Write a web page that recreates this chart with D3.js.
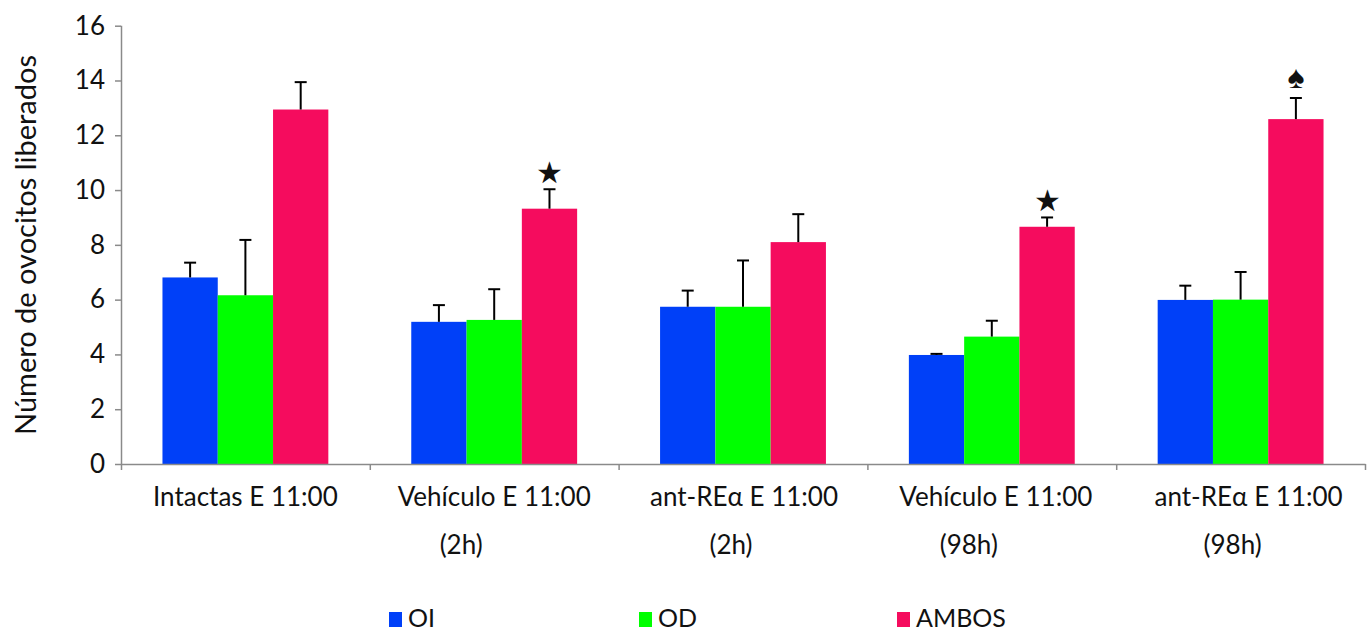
<!DOCTYPE html>
<html>
<head>
<meta charset="utf-8">
<script src="https://cdn.jsdelivr.net/npm/d3@7/dist/d3.min.js"></script>
<style>
  html, body { margin: 0; padding: 0; background: #fff; }
  svg { display: block; }
  text { font-family: Lato, "Open Sans", sans-serif; fill: #111; }
</style>
</head>
<body>
<svg id="chart" width="1371" height="634"></svg>
<script>
// ---------- data ----------
const categoriesLine1 = ["Intactas E 11:00", "Vehículo E 11:00", "ant-REα E 11:00", "Vehículo E 11:00", "ant-REα E 11:00"];
const categoriesLine2 = ["", "(2h)", "(2h)", "(98h)", "(98h)"];
const seriesNames = ["OI", "OD", "AMBOS"];
const valuesOI    = [6.81, 5.19, 5.74, 3.98, 5.99];
const valuesOD    = [6.16, 5.26, 5.74, 4.65, 6.00];
const valuesAMBOS = [12.94, 9.32, 8.10, 8.66, 12.59];
const errOI    = [0.54, 0.61, 0.59, 0.04, 0.52];
const errOD    = [2.02, 1.12, 1.69, 0.58, 1.01];
const errAMBOS = [1.00, 0.71, 1.02, 0.34, 0.77];
const yTicks = [0, 2, 4, 6, 8, 10, 12, 14, 16];
const yTitle = "Número de ovocitos liberados";
// significance marks: [category index, series index, symbol]
const marks = [[1, 2, "★"], [3, 2, "★"], [4, 2, "♠"]];

// ---------- layout / style ----------
const colors = ["#0040F8", "#00FF00", "#F50C5E"];
const plot = { left: 121, right: 1365, top: 25.7, bottom: 464 };
const line1Shift = [0, 0, 1, 4, 8];
const line2Shift = [0, -33, -12, -23, -8];
const axisColor = "#8a8a8a";

const svg = d3.select("#chart");
const cats = d3.range(categoriesLine1.length);
const values = [valuesOI, valuesOD, valuesAMBOS];
const errs = [errOI, errOD, errAMBOS];

const x = d3.scaleBand().domain(cats).range([plot.left, plot.right]).paddingInner(0).paddingOuter(0);
const xs = d3.scaleBand().domain(d3.range(seriesNames.length)).range([0, x.bandwidth()])
  .paddingInner(0).paddingOuter(0.75);
const y = d3.scaleLinear().domain([0, 16]).range([plot.bottom, plot.top]);

// bars
const rows = [];
cats.forEach(c => seriesNames.forEach((s, k) => rows.push({ c, k, v: values[k][c], e: errs[k][c] })));

svg.append("g").selectAll("rect").data(rows).join("rect")
  .attr("x", d => x(d.c) + xs(d.k))
  .attr("width", xs.bandwidth())
  .attr("y", d => y(d.v))
  .attr("height", d => y(0) - y(d.v))
  .attr("fill", d => colors[d.k]);

// error bars
const eg = svg.append("g").attr("stroke", "#000").attr("stroke-width", 2);
rows.forEach(d => {
  const cx = x(d.c) + xs(d.k) + xs.bandwidth() / 2;
  eg.append("line").attr("x1", cx).attr("x2", cx).attr("y1", y(d.v)).attr("y2", y(d.v + d.e));
  eg.append("line").attr("x1", cx - 6).attr("x2", cx + 6).attr("y1", y(d.v + d.e)).attr("y2", y(d.v + d.e));
});

// y axis
const yAxis = svg.append("g").attr("transform", `translate(${plot.left},0)`)
  .call(d3.axisLeft(y).tickValues(yTicks).tickSize(6).tickSizeOuter(0).tickPadding(10).tickFormat(d3.format("d")));
yAxis.select(".domain").attr("stroke", axisColor).attr("stroke-width", 1.5)
  .attr("d", `M0.5,${plot.top}V${plot.bottom + 6}`);
yAxis.selectAll(".tick line").attr("stroke", axisColor).attr("stroke-width", 1.5);
yAxis.selectAll(".tick text").attr("font-size", 26).attr("font-family", "Lato").attr("fill", "#111");

// x axis (boundary ticks)
const xb = d3.scaleLinear().domain([0, cats.length]).range([plot.left, plot.right]);
const xAxis = svg.append("g").attr("transform", `translate(0,${plot.bottom})`)
  .call(d3.axisBottom(xb).tickValues(d3.range(1, cats.length + 1)).tickSize(6).tickSizeOuter(0).tickFormat(""));
xAxis.select(".domain").attr("stroke", axisColor).attr("stroke-width", 1.5);
xAxis.selectAll(".tick line").attr("stroke", axisColor).attr("stroke-width", 1.5);

// x labels
const xl = svg.append("g");
cats.forEach(c => {
  const cx = x(c) + x.bandwidth() / 2;
  xl.append("text").attr("x", cx + line1Shift[c]).attr("y", 506).attr("text-anchor", "middle")
    .attr("font-size", 26).text(categoriesLine1[c]);
  if (categoriesLine2[c]) {
    xl.append("text").attr("x", cx + line2Shift[c]).attr("y", 554).attr("text-anchor", "middle")
      .attr("font-size", 26).text(categoriesLine2[c]);
  }
});

// y title
svg.append("text").attr("transform", `translate(36,245) rotate(-90)`).attr("text-anchor", "middle")
  .attr("font-size", 29).text(yTitle);

// significance marks
marks.forEach(([c, k, sym]) => {
  const cx = x(c) + xs(k) + xs.bandwidth() / 2;
  const top = y(values[k][c] + errs[k][c]);
  svg.append("text").attr("x", cx).attr("y", top - (sym === "♠" ? 23 : 18))
    .attr("text-anchor", "middle").attr("dominant-baseline", "central")
    .attr("font-family", "DejaVu Sans").attr("font-size", sym === "♠" ? 32 : 30).text(sym);
});

// legend
const legendX = [389, 639, 897];
const lg = svg.append("g");
seriesNames.forEach((s, k) => {
  lg.append("rect").attr("x", legendX[k]).attr("y", 612).attr("width", 13).attr("height", 15).attr("fill", colors[k]);
  lg.append("text").attr("x", legendX[k] + 19).attr("y", 627).attr("font-size", 25).text(s);
});
</script>
</body>
</html>
